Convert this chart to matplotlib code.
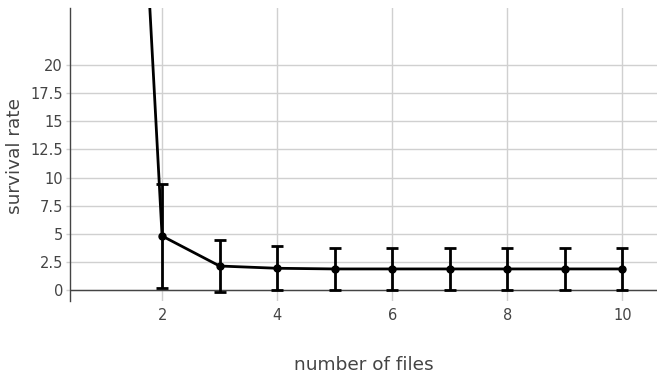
import matplotlib.pyplot as plt

# Data.
n_files = [1, 2, 3, 4, 5, 6, 7, 8, 9, 10]
survival = [100, 4.8, 2.13, 1.93, 1.87, 1.87, 1.87, 1.87, 1.87, 1.87]
err = [0, 4.58, 2.3, 1.95, 1.9, 1.9, 1.9, 1.9, 1.9, 1.9]
x_ticks = [2, 4, 6, 8, 10]
y_ticks = [0, 2.5, 5, 7.5, 10, 12.5, 15, 17.5, 20]

plt.rcParams["font.family"] = "DejaVu Sans"
text_color = "#444444"

fig = plt.figure(figsize=(6.57, 3.73), dpi=100)
W, H = 657, 373
ax = fig.add_axes([70 / W, 1 - 301 / H, (657 - 70) / W, (301 - 8) / H])

ax.set_xlim(0.4, 10.6)
ax.set_ylim(-0.98, 25.07)

# Grid and zero line in the plotly look.
ax.set_xticks(x_ticks)
ax.set_yticks(y_ticks)
ax.set_yticklabels([f"{v:g}" for v in y_ticks])
ax.grid(True, color="#d0d0d0", linewidth=1)
ax.set_axisbelow(True)
ax.axhline(0, color="#444444", linewidth=1, zorder=1)

for side in ["top", "right", "bottom"]:
    ax.spines[side].set_visible(False)
ax.spines["left"].set_color("#444444")
ax.spines["left"].set_linewidth(1)

ax.tick_params(axis="both", labelsize=10.5, colors=text_color)
ax.tick_params(axis="y", length=3, width=1, color="#d0d0d0", pad=2)
ax.tick_params(axis="x", length=0, pad=5)

ax.errorbar(n_files, survival, yerr=err, color="black", linewidth=2,
            marker="o", markersize=5, elinewidth=2, capsize=4, capthick=2,
            zorder=3)

fig.text(0.5 + 35 / W, 1 - 365 / H, "number of files", ha="center", va="center",
         fontsize=13.3, color=text_color)
fig.text(15 / W, 1 - 156 / H, "survival rate", ha="center", va="center",
         rotation=90, fontsize=13.3, color=text_color)

fig.savefig("out.png", dpi=100)
